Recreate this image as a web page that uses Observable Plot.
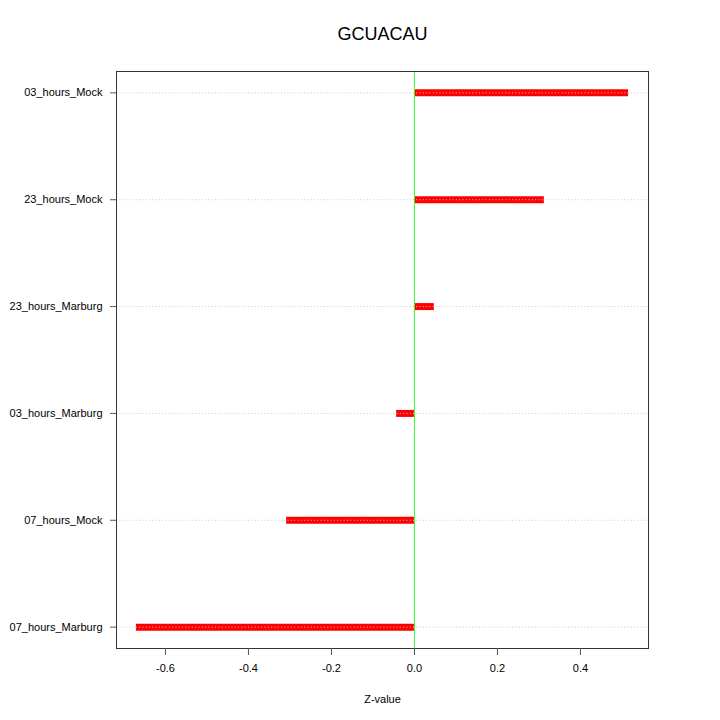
<!DOCTYPE html>
<html>
<head>
<meta charset="utf-8">
<script src="https://cdn.jsdelivr.net/npm/d3@7"></script>
<script src="https://cdn.jsdelivr.net/npm/@observablehq/plot@0.6"></script>
<style>
  html, body { margin: 0; padding: 0; background: #fff; }
  svg { font-family: "Liberation Sans", Arial, sans-serif; }
</style>
</head>
<body>
<div id="chart"></div>
<script>
const titleText = "GCUACAU";
const xLabel = "Z-value";
const categories = ["03_hours_Mock", "23_hours_Mock", "23_hours_Marburg", "03_hours_Marburg", "07_hours_Mock", "07_hours_Marburg"];
const values = [0.516, 0.313, 0.048, -0.043, -0.308, -0.670];
const xTicks = [-0.6, -0.4, -0.2, 0.0, 0.2, 0.4];

const data = categories.map((c, i) => ({cat: c, z: values[i]}));

const chart = Plot.plot({
  width: 720,
  height: 720,
  marginLeft: 116,
  marginRight: 72,
  marginTop: 71,
  marginBottom: 72,
  style: {fontFamily: "'Liberation Sans', Arial, sans-serif", fontSize: "11px", background: "#fff"},
  x: {domain: [-0.718, 0.564]},
  y: {type: "point", domain: categories, padding: 0.2, round: false},
  marks: [
    Plot.ruleY(data, {x1: 0, x2: "z", y: "cat", stroke: "#ff0000", strokeWidth: 7}),
    Plot.ruleY(categories, {y: d => d, stroke: "#c8c8c8", strokeWidth: 1, strokeDasharray: "1,2.3"}),
    Plot.ruleX([0], {stroke: "#33ff33", strokeWidth: 1}),
    Plot.frame({stroke: "#333", strokeWidth: 1}),
    Plot.axisX({ticks: xTicks, tickFormat: d => d.toFixed(1), tickSize: 7, tickPadding: 9, fontSize: 11, label: null, stroke: "#555"}),
    Plot.axisY({tickSize: 6, tickPadding: 8, fontSize: 11, label: null, stroke: "#555"}),
    Plot.text([titleText], {frameAnchor: "top", dy: -44, fontSize: 18, fill: "#000"}),
    Plot.text([xLabel], {frameAnchor: "bottom", dy: 54, fontSize: 11, fill: "#000"})
  ]
});
document.getElementById("chart").appendChild(chart);
</script>
</body>
</html>
